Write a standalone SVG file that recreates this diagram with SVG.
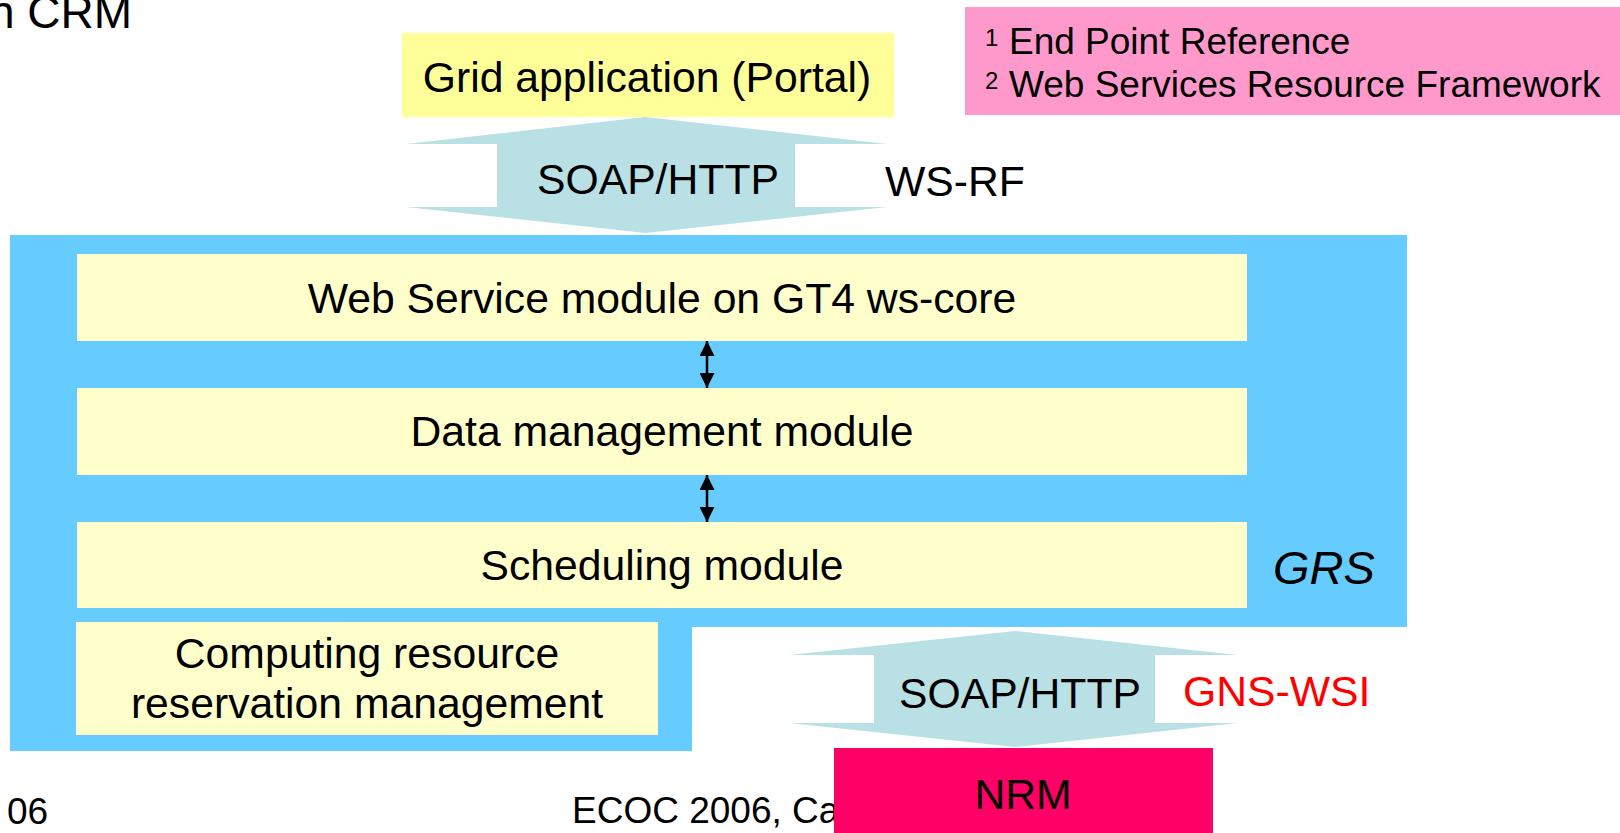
<svg xmlns="http://www.w3.org/2000/svg" width="1620" height="833" viewBox="0 0 1620 833">
  <defs>
    <style>
      text { font-family: "Liberation Sans", Arial, sans-serif; fill: #000; }
      .t42 { font-size: 42.7px; }
      .t37 { font-size: 37px; }
      .sup { font-size: 24px; }
      .mid { text-anchor: middle; }
      .module { fill: #FFFFCC; }
      .pipe { fill: #B9E0E4; }
      .link { stroke: #000; stroke-width: 2.5; fill: none; }
    </style>
    <marker id="head" markerUnits="userSpaceOnUse" markerWidth="15" markerHeight="15" refX="15" refY="7.5" orient="auto-start-reverse">
      <path d="M0,0 L15,7.5 L0,15 z" fill="#000"/>
    </marker>
  </defs>

  <rect width="1620" height="833" fill="#fff"/>

  <!-- slide title (running off the left edge) -->
  <text x="-11" y="28" style="font-size:46px">n CRM</text>

  <!-- footnotes -->
  <g id="footnotes">
    <rect x="965" y="7" width="655" height="108" fill="#FF99CC"/>
    <text x="985" y="54" class="t37"><tspan class="sup" dy="-8">1</tspan><tspan x="1009" dy="8">End Point Reference</tspan></text>
    <text x="985" y="97" class="t37"><tspan class="sup" dy="-8">2</tspan><tspan x="1009" dy="8">Web Services Resource Framework</tspan></text>
  </g>

  <!-- portal -->
  <g id="portal">
    <rect x="402" y="33" width="492" height="84" fill="#FFFF99"/>
    <text x="647" y="92" class="t42 mid">Grid application (Portal)</text>
  </g>

  <!-- GRS container -->
  <g id="grs">
    <polygon points="10,235 1407,235 1407,627 692,627 692,751 10,751" fill="#66CCFF"/>
    <text x="1273" y="584" style="font-size:47px;font-style:italic">GRS</text>
  </g>

  <g id="ws-module">
    <rect class="module" x="77" y="254" width="1170" height="87"/>
    <text x="662" y="313" class="t42 mid">Web Service module on GT4 ws-core</text>
  </g>

  <g id="data-module">
    <rect class="module" x="77" y="388" width="1170" height="87"/>
    <text x="662" y="446" class="t42 mid">Data management module</text>
  </g>

  <g id="scheduling-module">
    <rect class="module" x="77" y="522" width="1170" height="86"/>
    <text x="662" y="580" class="t42 mid">Scheduling module</text>
  </g>

  <g id="crrm">
    <rect class="module" x="76" y="622" width="582" height="113"/>
    <text x="367" y="668" class="t42 mid">Computing resource</text>
    <text x="367" y="718" class="t42 mid">reservation management</text>
  </g>

  <!-- footer -->
  <g id="footer">
    <text x="7" y="824" class="t37">06</text>
    <text x="572" y="823" class="t37">ECOC 2006, Ca</text>
  </g>

  <!-- NRM -->
  <g id="nrm">
    <rect x="834" y="748" width="379" height="85" fill="#FF0066"/>
    <text x="1023" y="809" class="t42 mid">NRM</text>
  </g>

  <!-- connectors -->
  <g id="connectors">
    <polygon class="pipe" points="645,117 406,144 497,144 497,207 406,207 645,233 887,207 795,207 795,144 887,144"/>
    <text x="537" y="194" class="t42">SOAP/HTTP</text>
    <text x="885" y="196" class="t42">WS-RF</text>

    <polygon class="pipe" points="1015,631 789,655 874,655 874,723 789,723 1015,747 1238,723 1155,723 1155,655 1238,655"/>
    <text x="899" y="708" class="t42">SOAP/HTTP</text>
    <text x="1183" y="706" class="t42" style="fill:#FF0000">GNS-WSI</text>

    <line class="link" x1="707" y1="341" x2="707" y2="388" marker-start="url(#head)" marker-end="url(#head)"/>
    <line class="link" x1="707" y1="475" x2="707" y2="522" marker-start="url(#head)" marker-end="url(#head)"/>
  </g>
</svg>
